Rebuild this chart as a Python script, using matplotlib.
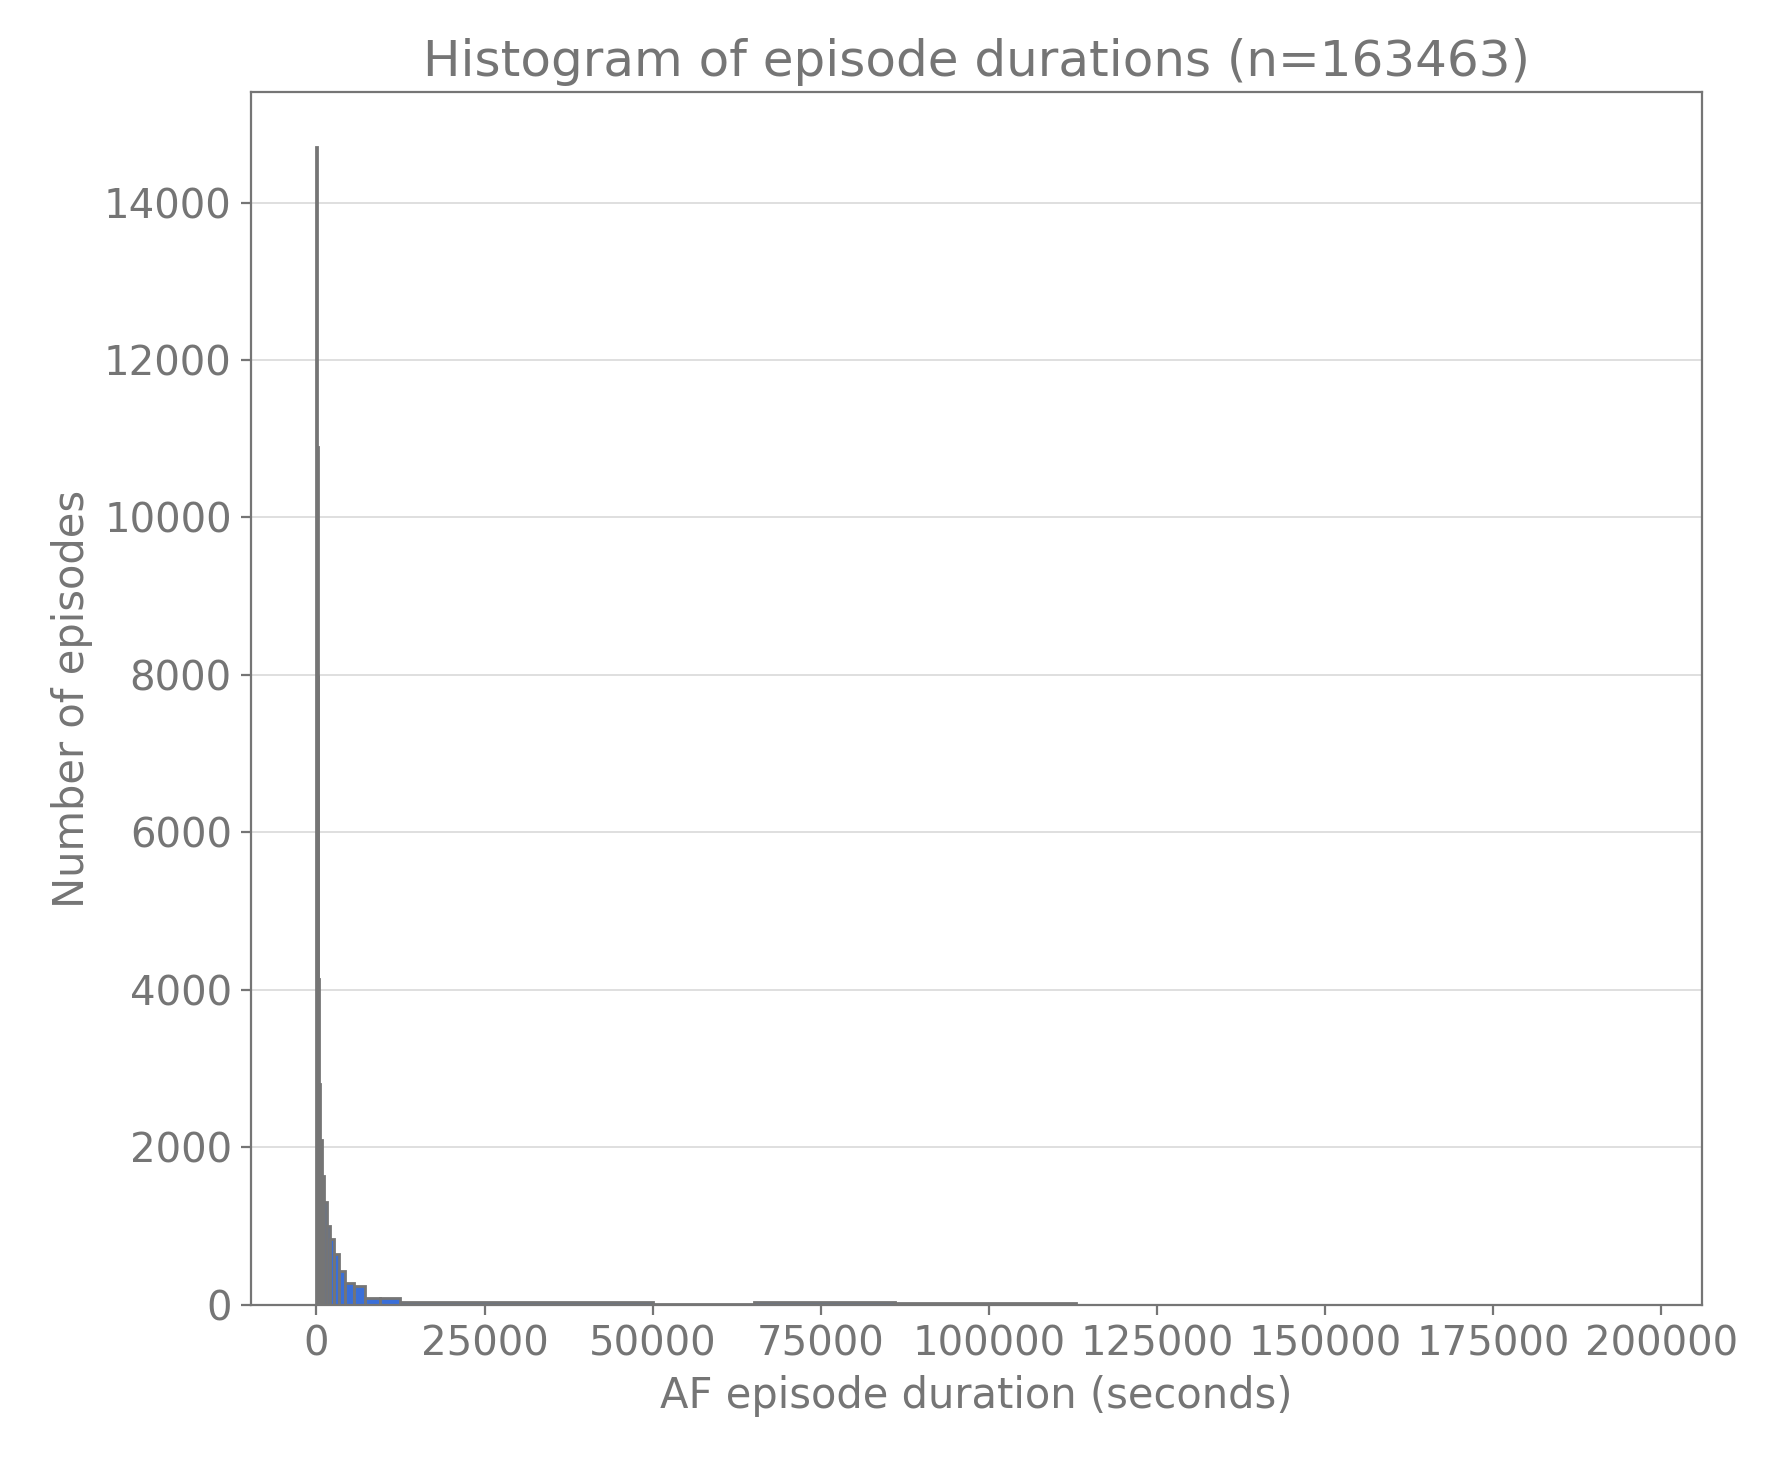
import matplotlib
matplotlib.use("Agg")
import matplotlib.pyplot as plt

bin_edges = [0, 100, 200, 300, 450, 600, 830, 1080, 1570, 2060, 2550, 3380, 4260,
             5590, 7200, 9400, 12450, 50000, 65000, 86000, 113000]
counts = [14700, 10900, 8000, 4140, 2800, 2090, 1630, 1310, 1000, 835, 645, 430,
          270, 240, 80, 80, 40, 15, 35, 25]

gray = "#757575"
fig = plt.figure(figsize=(8.845, 7.33), dpi=200)
ax = fig.add_axes([0.142, 0.11, 0.82, 0.827])
ax.hist(bin_edges[:-1], bins=bin_edges, weights=counts, color="#3a6fd8",
        edgecolor=gray, linewidth=1.0)
ax.set_xlim(-9700, 206000)
ax.set_ylim(0, 15400)
ax.set_xticks([0, 25000, 50000, 75000, 100000, 125000, 150000, 175000, 200000])
ax.set_yticks(range(0, 14001, 2000))
ax.yaxis.grid(True, color="#d9d9d9", linewidth=0.6)
ax.set_axisbelow(True)
for s in ax.spines.values():
    s.set_color(gray)
ax.tick_params(colors=gray, labelsize=14.5, labelcolor=gray)
ax.set_title("Histogram of episode durations (n=163463)", color=gray, fontsize=18)
ax.set_xlabel("AF episode duration (seconds)", color=gray, fontsize=15)
ax.set_ylabel("Number of episodes", color=gray, fontsize=15)
fig.savefig("out.png", dpi=200)
